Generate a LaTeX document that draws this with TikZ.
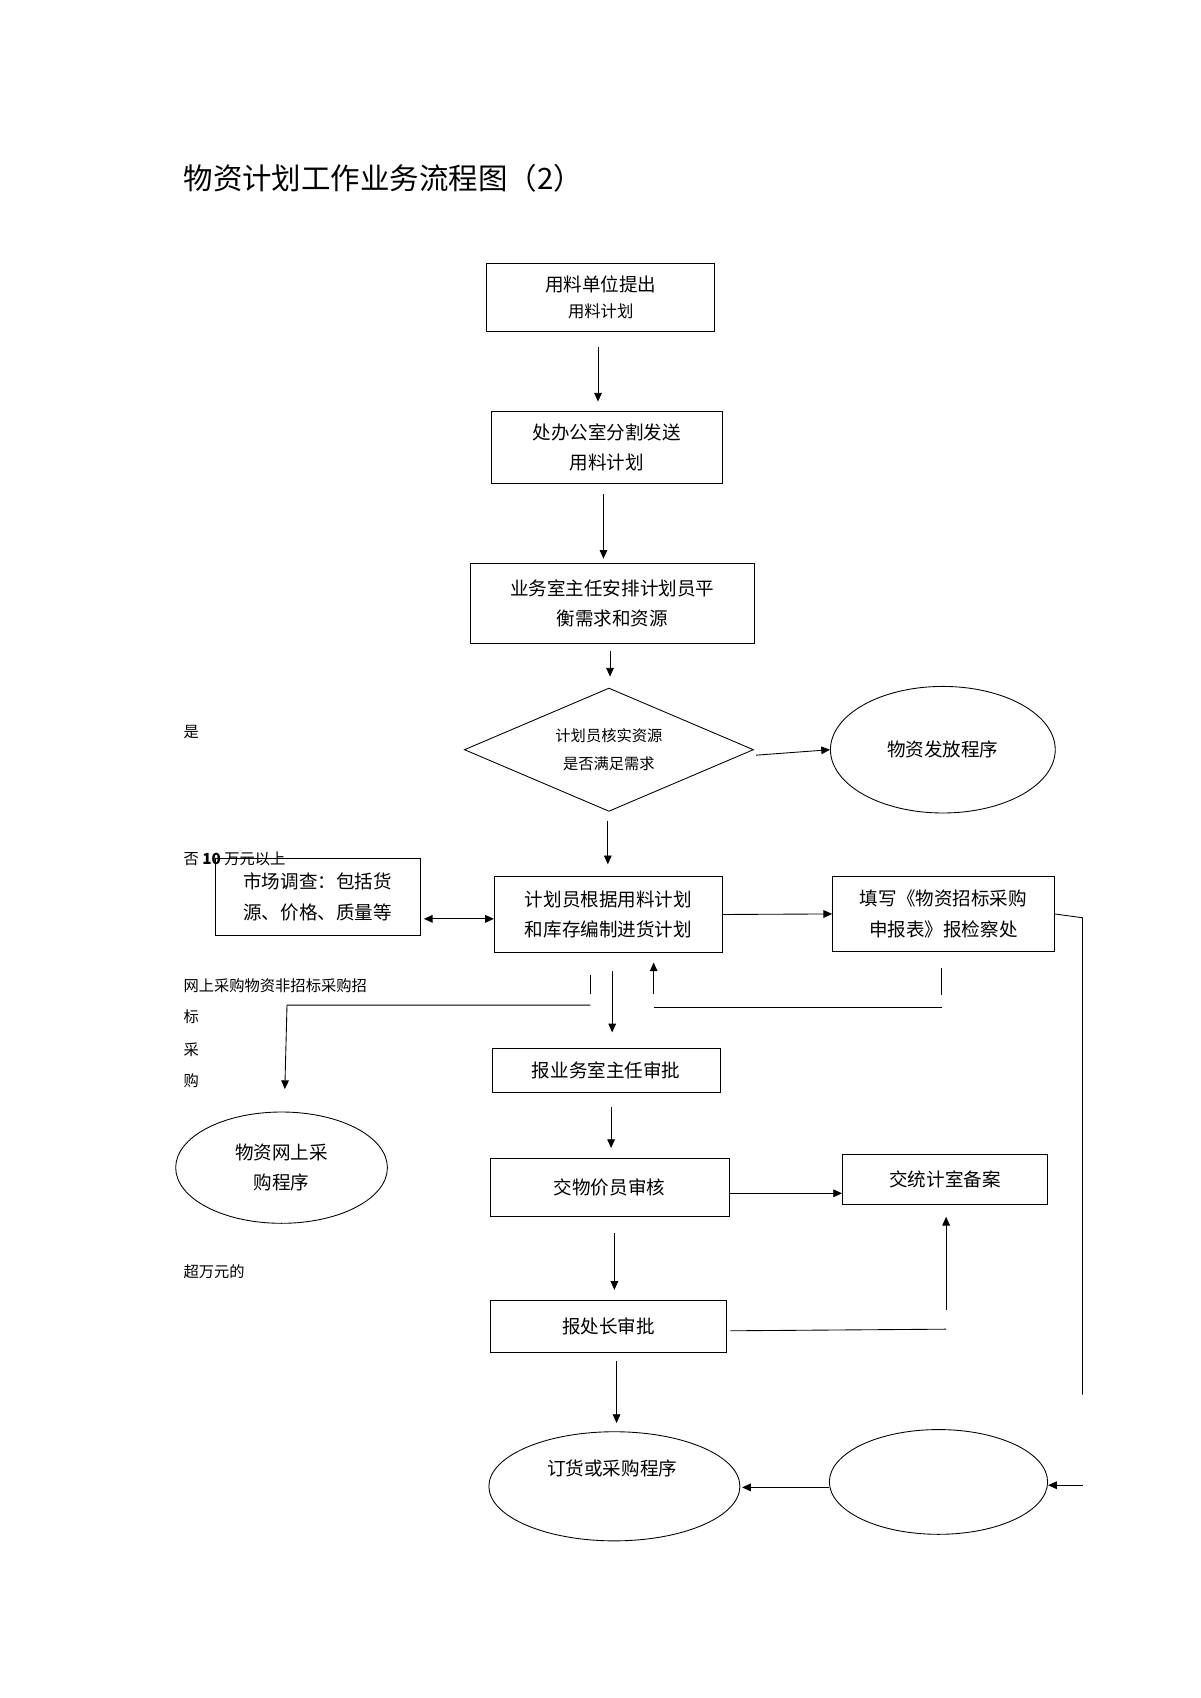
\documentclass[tikz,border=0pt]{standalone}
\usepackage{fontspec}
\newfontfamily\cjk{Noto Sans CJK SC}
\usetikzlibrary{shapes.geometric,arrows.meta}
\begin{document}
\begin{tikzpicture}[x=1pt,y=-1pt,
  every node/.style={font=\cjk\fontsize{17}{28}\selectfont},
  bx/.style={draw,thick,inner sep=0,align=center},
  ell/.style={draw,thick,ellipse,inner sep=0,align=center},
  lbl/.style={anchor=west,inner sep=0,font=\cjk\fontsize{14}{16}\selectfont},
  arr/.style={thick,-{Triangle[length=8pt,width=7pt]}},
  ln/.style={thick}]
\useasboundingbox (0,0) rectangle (1100,1556);
\node[anchor=west,inner sep=0,font=\cjk\fontsize{27}{30}\selectfont] (title) at (168,163) {物资计划工作业务流程图（2）};
\node[bx,minimum width=209,minimum height=63] (b1) at (550.5,272.5) {用料单位提出\\[-4pt]{\fontsize{15}{20}\selectfont 用料计划}};
\node[bx,minimum width=212,minimum height=66] (b2) at (556,410) {处办公室分割发送\\用料计划};
\node[bx,minimum width=260,minimum height=74] (b3) at (561,553) {业务室主任安排计划员平\\衡需求和资源};
\node[draw,thick,diamond,aspect=2.33,minimum width=265,minimum height=113,inner sep=0,align=center,font=\cjk\fontsize{14}{26}\selectfont] (d) at (558,687) {计划员核实资源\\是否满足需求};
\node[ell,minimum width=206,minimum height=116] (e1) at (864,687) {物资发放程序};
\node[bx,minimum width=188,minimum height=70] (mk) at (291,822) {市场调查：包括货\\源、价格、质量等};
\node[bx,minimum width=209,minimum height=70] (pl) at (557.5,838) {计划员根据用料计划\\和库存编制进货计划};
\node[bx,minimum width=203,minimum height=69] (fl) at (864.5,837.5) {填写《物资招标采购\\申报表》报检察处};
\node[bx,minimum width=209,minimum height=40] (b5) at (555.5,981) {报业务室主任审批};
\node[ell,minimum width=194,minimum height=102] (e2) at (258,1070) {物资网上采\\购程序};
\node[bx,minimum width=219,minimum height=53] (b6) at (558.5,1088.5) {交物价员审核};
\node[bx,minimum width=188,minimum height=46] (b7) at (866,1081) {交统计室备案};
\node[bx,minimum width=217,minimum height=47] (b8) at (557.5,1215.5) {报处长审批};
\node[ell,minimum width=230,minimum height=100] (e3) at (563,1362) {};
\node[inner sep=0] (e3t) at (561,1346) {订货或采购程序};
\node[ell,minimum width=200,minimum height=96] (e4) at (860,1358) {};
\node[lbl] (t1) at (168,671) {是};
\node[lbl] (t2) at (168,787) {否 \textbf{10} 万元以上};
\node[lbl] (t3) at (168,903) {网上采购物资非招标采购招};
\node[lbl] (t4) at (168,932) {标};
\node[lbl] (t5) at (168,962) {采};
\node[lbl] (t6) at (168,990) {购};
\node[lbl] (t7) at (168,1165) {超万元的};
\draw[arr] (548,318) -- (548,368);
\draw[arr] (553,453) -- (553,512);
\draw[arr] (559,597) -- (559,620);
\draw[arr] (d.east) ++(2,5) -- (e1.west);
\draw[arr] (557,752) -- (557,792);
\draw[thick,{Triangle[length=8pt,width=7pt]}-{Triangle[length=8pt,width=7pt]}] (mk.east) ++(3,20) -- (pl.west |- 0,842);
\draw[arr] (pl.east) -- (fl.west);
\coordinate (r1) at (992,841); \coordinate (r2) at (992,1278);
\draw[ln] (fl.east) -- (r1) -- (r2);
\draw[ln] (541,893) -- (541,911);
\draw[arr] (541,921) -- (263,921) -- (261,998);
\draw[arr] (561,890) -- (561,946);
\draw[arr] (599,911) -- (599,882);
\draw[ln] (599,923) -- (863,923);
\draw[ln] (863,887) -- (863,912);
\draw[arr] (560,1014) -- (560,1052);
\draw[arr] (b6.east) ++(0,5) -- (b7.west |- 0,1093.5);
\draw[arr] (563,1130) -- (563,1182);
\draw[ln] (b8.east) ++(3,4) -- (867,1218);
\draw[arr] (867,1200) -- (867,1115);
\draw[arr] (565,1247) -- (565,1304);
\draw[arr] (e4.west) ++(0,5) -- (680,1363);
\draw[arr] (992,1361) -- (e4.east |- 0,1361);
\end{tikzpicture}
\end{document}
